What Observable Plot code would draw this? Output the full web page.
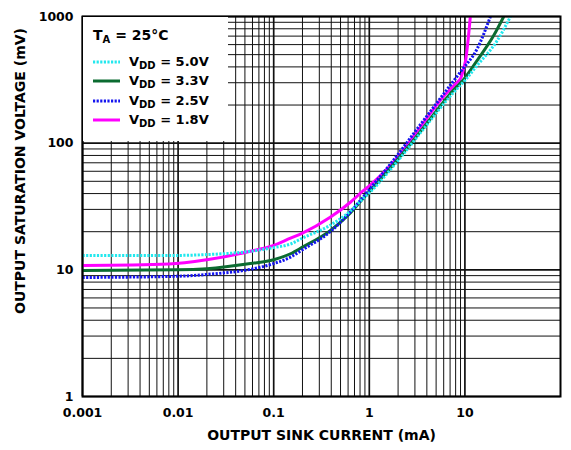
<!DOCTYPE html>
<html>
<head>
<meta charset="utf-8">
<script src="https://cdn.jsdelivr.net/npm/d3@7"></script>
<script src="https://cdn.jsdelivr.net/npm/@observablehq/plot@0.6"></script>
<style>
  html, body { margin: 0; padding: 0; background: #fff; }
  #wrap { position: relative; width: 571px; height: 450px; }
  #legend { position: absolute; left: 83px; top: 17px; width: 145px; height: 124px; background: #fff;
            font-family: "DejaVu Sans", sans-serif; font-weight: bold; color: #000; }
  #legend .row { position: absolute; left: 10px; height: 14px; line-height: 14px; font-size: 13px; white-space: nowrap; }
  #legend .row svg { position: absolute; left: 0; top: 4px; }
  #legend .row span.t { position: absolute; left: 36px; }
  #legend sub { font-size: 10px; vertical-align: -3px; line-height: 0; }
  #legend .title { position: absolute; left: 10px; top: 10px; font-size: 14px; line-height: 16px; white-space: nowrap; }
  #ylabel { position: absolute; left: 20px; top: 171px; width: 0; height: 0; }
  #ylabel span { position: absolute; transform: translate(-50%, -50%) rotate(-90deg); white-space: nowrap;
                 font-family: "DejaVu Sans", sans-serif; font-weight: bold; font-size: 14px; line-height: 16px; color: #000; }
</style>
</head>
<body>
<div id="wrap"></div>
<script>
// ---- Tick values and labels ----
const xTickValues = [0.001, 0.01, 0.1, 1, 10];
const xTickLabels = ["0.001", "0.01", "0.1", "1", "10"];
const yTickValues = [1, 10, 100, 1000];
const yTickLabels = ["1", "10", "100", "1000"];
const xLabel = "OUTPUT SINK CURRENT (mA)";
const yLabel = "OUTPUT SATURATION VOLTAGE (mV)";

// ---- Grid definition ----
const xGridDecades = [0.001, 0.01, 0.1, 1, 10];
const yGridDecades = [1, 10, 100, 1000];
const gridMultipliers = [2, 3, 4, 5, 6, 7, 8, 9];

// ---- Series (current in mA, voltage in mV) ----
const seriesNames = ["5.0V", "3.3V", "2.5V", "1.8V"];
const seriesColors = ["#22E8EE", "#0B6B30", "#1414F0", "#FF00FF"];
const seriesDashed = [true, false, true, false];

const current5_0 = [0.001, 0.01, 0.02, 0.057, 0.1, 0.15, 0.2, 0.39, 0.63, 0.86, 1, 2, 3.8, 7.2, 10.1, 13.4, 21.8, 30];
const vdd5_0     = [13.0, 13.0, 13.2, 14.0, 15.0, 16.0, 17.8, 22.5, 29, 36.5, 40.5, 73, 133, 240, 315, 410, 646, 1000];

const current3_3 = [0.001, 0.01, 0.02, 0.057, 0.1, 0.15, 0.2, 0.39, 0.63, 0.86, 1, 1.94, 3.7, 7, 10.1, 13.4, 20, 25.5];
const vdd3_3     = [9.9, 10.0, 10.2, 11.2, 12.0, 13.4, 15.1, 20.4, 28, 36.5, 41.5, 73, 133, 245, 331, 449, 707, 1000];

const current2_5 = [0.001, 0.01, 0.02, 0.057, 0.1, 0.15, 0.2, 0.39, 0.63, 0.86, 1, 1.78, 3.25, 6, 9.1, 13.5, 18.5];
const vdd2_5     = [8.7, 8.9, 9.2, 10.1, 11.2, 12.6, 14.4, 20, 28.5, 37.5, 43, 73, 133, 245, 370, 560, 1000];

const current1_8 = [0.001, 0.008, 0.02, 0.057, 0.1, 0.15, 0.2, 0.39, 0.63, 0.86, 1, 2, 3.2, 6, 8, 9.1, 9.8, 10.2, 10.7, 11.4];
const vdd1_8     = [10.8, 11.1, 12.0, 14.0, 15.6, 17.8, 19.5, 26, 34, 42, 46, 78, 125, 235, 295, 330, 400, 455, 610, 1000];

const seriesCurrents = [current5_0, current3_3, current2_5, current1_8];
const seriesVoltages = [vdd5_0, vdd3_3, vdd2_5, vdd1_8];

// Build tables
const seriesData = seriesNames.map((name, i) =>
  seriesCurrents[i].map((c, j) => ({ series: name, current: c, voltage: seriesVoltages[i][j] }))
);
const xMajor = xGridDecades;
const xMinor = xGridDecades.slice(0, -1).flatMap(d => gridMultipliers.map(m => +(d * m).toPrecision(3)));
const yMajor = yGridDecades;
const yMinor = yGridDecades.slice(0, -1).flatMap(d => gridMultipliers.map(m => d * m));
const xLabelMap = new Map(xTickValues.map((v, i) => [v, xTickLabels[i]]));
const yLabelMap = new Map(yTickValues.map((v, i) => [v, yTickLabels[i]]));

const dashPattern = "2.2,1.4";
const drawOrder = [3, 1, 2, 0];
const lineMarks = drawOrder.map(i => Plot.line(seriesData[i], {
  x: "current", y: "voltage",
  stroke: seriesColors[i], strokeWidth: 3,
  strokeDasharray: seriesDashed[i] ? dashPattern : null,
  strokeLinecap: "butt",
  curve: "monotone-x", clip: true
}));

const chart = Plot.plot({
  width: 571, height: 450,
  marginLeft: 82, marginRight: 11, marginTop: 16, marginBottom: 54,
  style: { fontFamily: "'DejaVu Sans', sans-serif", fontWeight: "bold", fontSize: "12.5px", color: "#000", background: "#fff" },
  x: { type: "log", domain: [0.001, 100], ticks: xTickValues, tickFormat: d => xLabelMap.get(d) ?? "", tickSize: 0, tickPadding: 12, label: null },
  y: { type: "log", domain: [1, 1000], ticks: yTickValues, tickFormat: d => yLabelMap.get(d) ?? "", tickSize: 0, tickPadding: 9, label: null },
  marks: [
    Plot.ruleX(xMinor, { stroke: "#111", strokeWidth: 1 }),
    Plot.ruleX(xMajor, { stroke: "#111", strokeWidth: 1.7 }),
    Plot.ruleY(yMinor, { stroke: "#111", strokeWidth: 1 }),
    Plot.ruleY(yMajor, { stroke: "#111", strokeWidth: 1.7 }),
    ...lineMarks,
    Plot.frame({ stroke: "#000", strokeWidth: 2 }),
    Plot.text([xLabel], { frameAnchor: "bottom", dy: 43, fontSize: 14, fontWeight: "bold" })
  ]
});

const wrap = document.getElementById("wrap");
wrap.appendChild(chart);

// Y axis title
const yl = document.createElement("div");
yl.id = "ylabel";
yl.innerHTML = `<span>${yLabel}</span>`;
wrap.appendChild(yl);

// Legend (HTML overlay with white background covering the grid)
const legend = document.createElement("div");
legend.id = "legend";
let html = `<div class="title">T<sub>A</sub> = 25°C</div>`;
const rowCenters = [45, 64, 83.5, 103];
seriesNames.forEach((name, i) => {
  const dash = seriesDashed[i] ? `stroke-dasharray="${dashPattern}"` : "";
  html += `<div class="row" style="top:${rowCenters[i] - 7}px">
    <svg width="27" height="6"><line x1="0" x2="27" y1="3" y2="3" stroke="${seriesColors[i]}" stroke-width="3" ${dash}/></svg>
    <span class="t">V<sub>DD</sub> = ${name}</span></div>`;
});
legend.innerHTML = html;
wrap.appendChild(legend);
</script>
</body>
</html>
